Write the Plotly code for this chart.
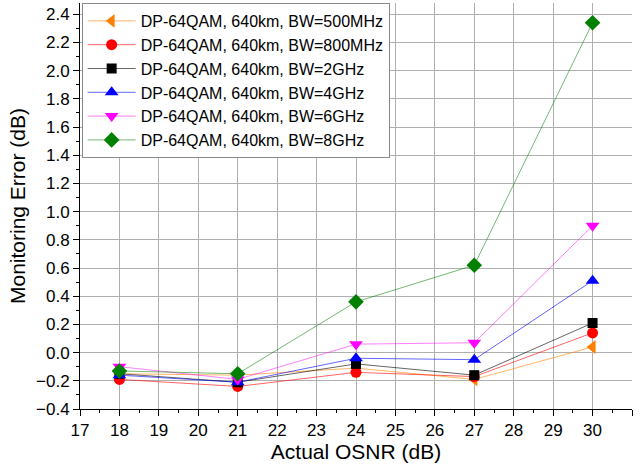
import plotly.graph_objects as go

osnr = [18, 21, 24, 27, 30]
labels = ["DP-64QAM, 640km, BW=500MHz", "DP-64QAM, 640km, BW=800MHz",
          "DP-64QAM, 640km, BW=2GHz", "DP-64QAM, 640km, BW=4GHz",
          "DP-64QAM, 640km, BW=6GHz", "DP-64QAM, 640km, BW=8GHz"]
bw500 = [-0.15, -0.16, -0.11, -0.19, 0.04]
bw800 = [-0.19, -0.24, -0.14, -0.17, 0.14]
bw2g = [-0.15, -0.21, -0.08, -0.16, 0.21]
bw4g = [-0.16, -0.21, -0.04, -0.05, 0.51]
bw6g = [-0.10, -0.19, 0.06, 0.07, 0.90]
bw8g = [-0.13, -0.15, 0.36, 0.62, 2.34]

series = [bw500, bw800, bw2g, bw4g, bw6g, bw8g]
marker_colors = ["#FF8000", "#FF0000", "#000000", "#0000FF", "#FF00FF", "#008000"]
line_colors = ["rgba(255,128,0,0.6)", "rgba(255,0,0,0.6)", "rgba(0,0,0,0.6)",
               "rgba(0,0,255,0.6)", "rgba(255,0,255,0.5)", "rgba(0,128,0,0.55)"]
symbols = ["triangle-left", "circle", "square", "triangle-up", "triangle-down", "diamond"]
sizes = [12, 11, 10, 12, 12, 12]

fig = go.Figure()
for name, ys, mc, lc, sym, sz in zip(labels, series, marker_colors, line_colors, symbols, sizes):
    fig.add_trace(go.Scatter(x=osnr, y=ys, name=name, mode="lines+markers",
                             line=dict(color=lc, width=1),
                             marker=dict(color=mc, symbol=sym, size=sz)))

fig.update_layout(
    width=641, height=471,
    margin=dict(l=80, r=9, t=3, b=62),
    paper_bgcolor="white", plot_bgcolor="white",
    font=dict(family="Liberation Sans, Arial, sans-serif", color="black", size=17),
    showlegend=True,
    legend=dict(x=0.003, y=1.0, xanchor="left", yanchor="top",
                bgcolor="white", bordercolor="#888888", borderwidth=1,
                font=dict(size=16), itemwidth=48, tracegroupgap=0),
)
fig.update_xaxes(range=[17, 31], dtick=1, tick0=17, showgrid=True, gridcolor="#B0B0B0",
                 gridwidth=1, showline=True, linecolor="black", linewidth=1,
                 ticks="outside", ticklen=6, tickcolor="black",
                 minor=dict(dtick=0.5, ticks="outside", ticklen=3, tickcolor="black", showgrid=False),
                 zeroline=False, title=dict(text="Actual OSNR (dB)", font=dict(size=21), standoff=4),
                 tickfont=dict(size=17))
fig.update_yaxes(range=[-0.4, 2.48], dtick=0.2, tick0=0, tickformat=".1f", showgrid=True,
                 gridcolor="#B0B0B0", gridwidth=1, showline=True, linecolor="black", linewidth=1,
                 ticks="outside", ticklen=6, tickcolor="black",
                 minor=dict(dtick=0.1, ticks="outside", ticklen=3, tickcolor="black", showgrid=False),
                 zeroline=False, title=dict(text="Monitoring Error (dB)", font=dict(size=21), standoff=4),
                 tickfont=dict(size=17))

fig.write_html("out.html")
